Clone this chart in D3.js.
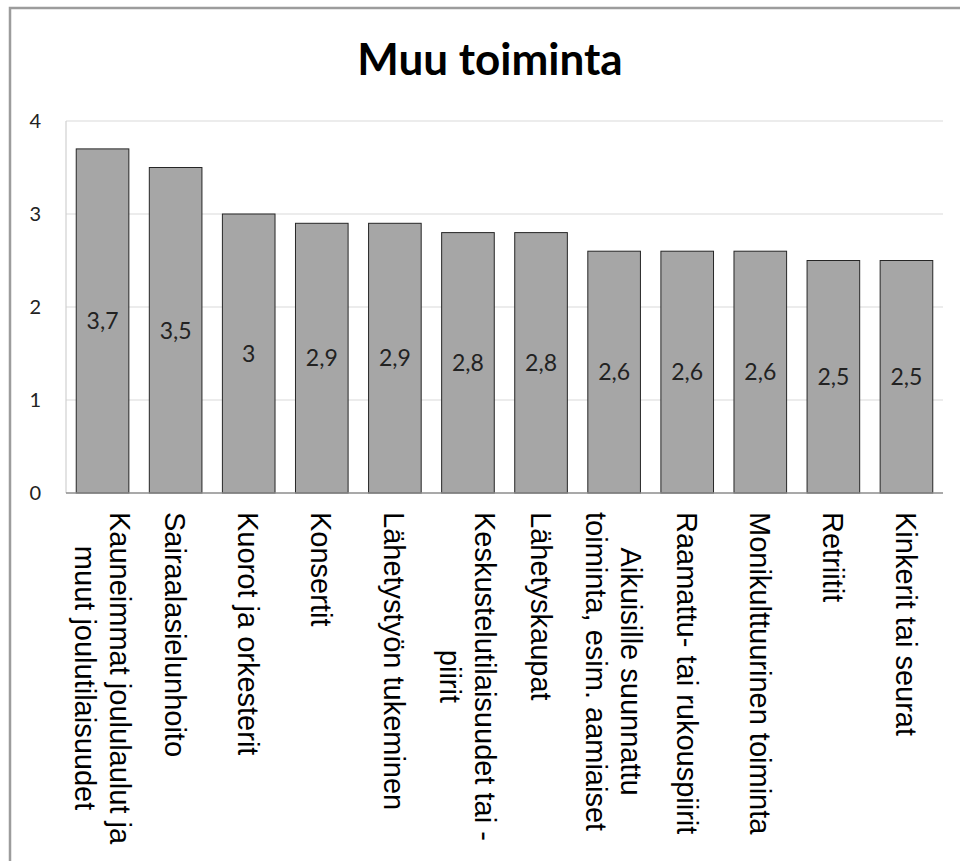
<!DOCTYPE html>
<html>
<head>
<meta charset="utf-8">
<script src="https://cdn.jsdelivr.net/npm/d3@7"></script>
<style>
  body { margin: 0; background: #fff; }
</style>
</head>
<body>
<svg id="chart" width="960" height="861"></svg>
<script>
const categories = [
  'Kauneimmat joululaulut ja\nmuut joulutilaisuudet',
  'Sairaalasielunhoito',
  'Kuorot ja orkesterit',
  'Konsertit',
  'Lähetystyön tukeminen',
  'Keskustelutilaisuudet tai -\npiirit',
  'Lähetyskaupat',
  'Aikuisille suunnattu\ntoiminta, esim. aamiaiset',
  'Raamattu- tai rukouspiirit',
  'Monikulttuurinen toiminta',
  'Retriitit',
  'Kinkerit tai seurat'
];
const values = [3.7, 3.5, 3, 2.9, 2.9, 2.8, 2.8, 2.6, 2.6, 2.6, 2.5, 2.5];
const yTicks = [0, 1, 2, 3, 4];
const title = 'Muu toiminta';

const svg = d3.select('#chart');
const plotLeft = 66, plotRight = 943, plotTop = 121, plotBottom = 493;

// frame (only top and left edges are visible in the picture)
svg.append('path')
  .attr('d', 'M10,861 L10,8 L960,8')
  .attr('fill', 'none')
  .attr('stroke', '#9c9c9c')
  .attr('stroke-width', 2.5);

svg.append('text')
  .attr('x', 490)
  .attr('y', 75)
  .attr('text-anchor', 'middle')
  .style('font-family', 'Lato, "Open Sans", sans-serif')
  .style('font-weight', 'bold')
  .style('font-size', '44px')
  .attr('fill', '#000')
  .text(title);

const x = d3.scaleBand()
  .domain(categories)
  .range([plotLeft, plotRight])
  .paddingInner(0.28)
  .paddingOuter(0.14);

const y = d3.scaleLinear()
  .domain([0, 4])
  .range([plotBottom, plotTop]);

// gridlines
svg.append('g')
  .selectAll('line')
  .data(yTicks.filter(d => d > 0))
  .enter()
  .append('line')
  .attr('x1', plotLeft)
  .attr('x2', plotRight)
  .attr('y1', d => y(d))
  .attr('y2', d => y(d))
  .attr('stroke', '#d9d9d9')
  .attr('stroke-width', 1.2);

// left axis line
svg.append('line')
  .attr('x1', plotLeft).attr('x2', plotLeft)
  .attr('y1', plotTop).attr('y2', plotBottom)
  .attr('stroke', '#d0d0d0')
  .attr('stroke-width', 1.2);

// y tick labels
svg.append('g')
  .selectAll('text')
  .data(yTicks)
  .enter()
  .append('text')
  .attr('x', 41)
  .attr('y', d => y(d))
  .attr('dy', '0.36em')
  .attr('text-anchor', 'end')
  .style('font-family', 'Lato, sans-serif')
  .style('font-size', '20px')
  .attr('fill', '#222')
  .text(d => d);

// bars
svg.append('g')
  .selectAll('rect')
  .data(values)
  .enter()
  .append('rect')
  .attr('x', (d, i) => x(categories[i]))
  .attr('y', d => y(d))
  .attr('width', x.bandwidth())
  .attr('height', d => y(0) - y(d))
  .attr('fill', '#a6a6a6')
  .attr('stroke', '#262626')
  .attr('stroke-width', 1);

// value labels in the middle of each bar
svg.append('g')
  .selectAll('text')
  .data(values)
  .enter()
  .append('text')
  .attr('x', (d, i) => x(categories[i]) + x.bandwidth() / 2)
  .attr('y', d => (y(d) + y(0)) / 2)
  .attr('dy', '0.36em')
  .attr('text-anchor', 'middle')
  .style('font-family', 'Lato, sans-serif')
  .style('font-size', '23px')
  .attr('fill', '#222')
  .text(d => String(d).replace('.', ','));

// baseline
svg.append('line')
  .attr('x1', plotLeft).attr('x2', plotRight)
  .attr('y1', plotBottom).attr('y2', plotBottom)
  .attr('stroke', '#8c8c8c')
  .attr('stroke-width', 1.5);

// rotated category labels, lines centred inside the block that starts under the axis
const fontSize = 29, lineGap = 35, capH = fontSize * 0.716, startY = 512;
categories.forEach(cat => {
  const lines = cat.split('\n');
  const cx = x(cat) + x.bandwidth() / 2;
  const g = svg.append('g');
  const texts = lines.map(ln => g.append('text')
    .style('font-family', '"Liberation Sans", Arial, sans-serif')
    .style('font-size', fontSize + 'px')
    .attr('fill', '#000')
    .attr('text-anchor', 'middle')
    .text(ln));
  const maxW = d3.max(texts, t => t.node().getComputedTextLength());
  texts.forEach((t, i) => {
    const capMid = cx + (lines.length - 1) / 2 * lineGap - i * lineGap;
    const bx = capMid - capH / 2;
    t.attr('transform', `translate(${bx},${startY + maxW / 2}) rotate(90)`);
  });
});
</script>
</body>
</html>
